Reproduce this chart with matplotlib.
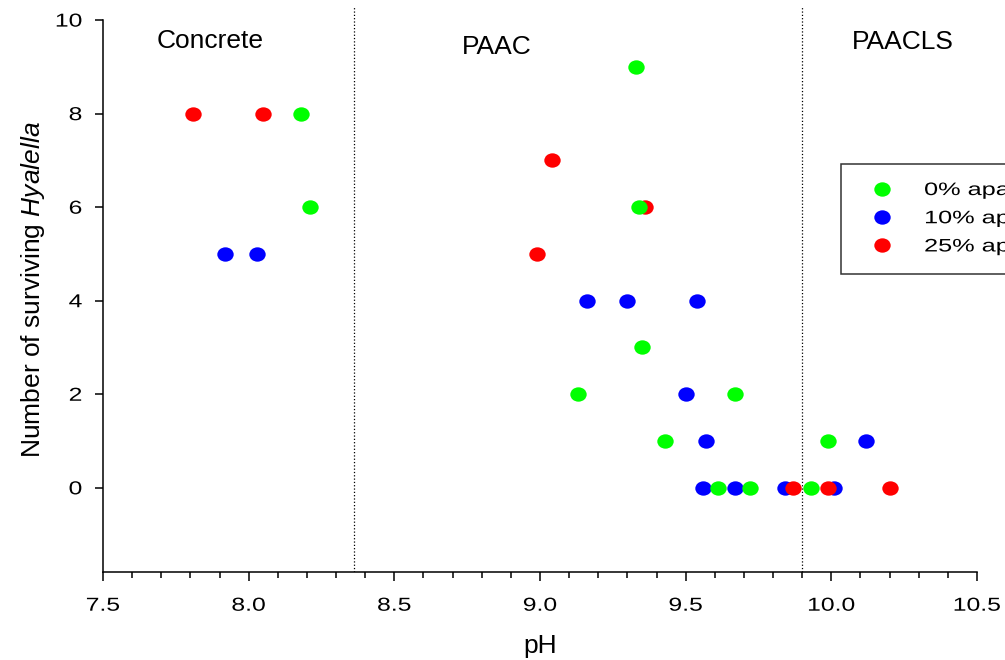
import matplotlib
matplotlib.use('Agg')
import matplotlib.pyplot as plt
import matplotlib.patheffects as pe
from matplotlib.path import Path
from matplotlib.transforms import Affine2D
from matplotlib.ticker import MultipleLocator

plt.rcParams['font.family'] = ['Liberation Sans', 'DejaVu Sans']
plt.rcParams['mathtext.fontset'] = 'custom'
plt.rcParams['mathtext.rm'] = 'Liberation Sans'
plt.rcParams['mathtext.it'] = 'Liberation Sans:italic'

# pH readings and surviving counts per apatite level
ph_0 = [8.18, 8.21, 9.33, 9.34, 9.35, 9.13, 9.67, 9.43, 9.99, 9.61, 9.72, 9.93]
n_0 = [8, 6, 9, 6, 3, 2, 2, 1, 1, 0, 0, 0]
ph_10 = [7.92, 8.03, 9.16, 9.30, 9.54, 9.50, 9.57, 10.12, 9.56, 9.67, 9.84, 10.01]
n_10 = [5, 5, 4, 4, 4, 2, 1, 1, 0, 0, 0, 0]
ph_25 = [7.81, 8.05, 9.04, 9.36, 8.99, 9.87, 9.99, 10.20]
n_25 = [8, 8, 7, 6, 5, 0, 0, 0]

labels = ['0% apatite', '10% apatite', '25% apatite']
zones = ['Concrete', 'PAAC', 'PAACLS']
zone_x = [7.866, 8.85, 10.246]
zone_y = [9.40, 9.27, 9.39]
dividers = [8.36, 9.9]
xticks = [7.5, 8.0, 8.5, 9.0, 9.5, 10.0, 10.5]
xticklabels = ['7.5', '8.0', '8.5', '9.0', '9.5', '10.0', '10.5']
yticks = [0, 2, 4, 6, 8, 10]


class Stretch(pe.AbstractPathEffect):
    # widen glyphs along the baseline, the source renders small text wide
    def __init__(self, sx, anchor='center'):
        super().__init__()
        self.sx = sx
        self.anchor = anchor

    def draw_path(self, renderer, gc, tpath, affine, rgbFace=None):
        v = tpath.vertices
        if tpath.codes is not None:
            v = v[tpath.codes != Path.CLOSEPOLY]
        if len(v) == 0:
            return
        if self.anchor == 'left':
            cx = 0.0
        elif self.anchor == 'right':
            cx = v[:, 0].max()
        else:
            cx = (v[:, 0].min() + v[:, 0].max()) / 2
        t = Affine2D().translate(-cx, 0).scale(self.sx, 1).translate(cx, 0) + affine
        renderer.draw_path(gc, tpath, t, rgbFace)


fig = plt.figure(figsize=(10.05, 6.6), dpi=100)
ax = fig.add_axes([103 / 1005, 1 - 572 / 660, (977 - 103) / 1005, (572 - 7) / 660])

dot = Path.unit_circle().transformed(Affine2D().scale(1.14, 1.0))
ms = 11.8
hb, = ax.plot(ph_10, n_10, ls='none', marker=dot, color='#0000ff', ms=ms, mec='none')
hr, = ax.plot(ph_25, n_25, ls='none', marker=dot, color='#ff0000', ms=ms, mec='none')
hg, = ax.plot(ph_0, n_0, ls='none', marker=dot, color='#00ff00', ms=ms, mec='none')

for d in dividers:
    ax.axvline(d, color='black', ls=':', lw=0.9)

for z, zx, zy in zip(zones, zone_x, zone_y):
    ax.text(zx, zy, z, ha='center', va='baseline', fontsize=19)

ax.set_xlim(7.5, 10.5)
ax.set_ylim(-1.8, 10.28)
ax.spines['top'].set_visible(False)
ax.spines['right'].set_visible(False)
ax.spines['left'].set_bounds(-1.8, 10)
ax.spines['left'].set_linewidth(1.1)
ax.spines['bottom'].set_linewidth(1.1)

ax.xaxis.set_minor_locator(MultipleLocator(0.1))
ax.set_xticks(xticks)
ax.set_xticklabels(xticklabels)
ax.set_yticks(yticks)
ax.tick_params(axis='x', which='major', length=6.5, width=1.1, pad=12, labelsize=13.5)
ax.tick_params(axis='x', which='minor', length=4, width=1.1)
ax.tick_params(axis='y', which='major', length=6, width=1.1, pad=9, labelsize=13.5)
for tk in ax.xaxis.get_major_ticks():
    tk.label1.set_path_effects([Stretch(1.32, 'center')])
for tk in ax.yaxis.get_major_ticks():
    tk.label1.set_path_effects([Stretch(1.32, 'right')])

ax.set_xlabel('pH', fontsize=19, labelpad=14)
ax.set_ylabel('Number of surviving $\\it{Hyalella}$', fontsize=19, labelpad=10)

leg = fig.legend([hg, hb, hr], labels, loc='upper left',
                 bbox_to_anchor=(841 / 1005, 1 - 164 / 660), borderaxespad=0,
                 fontsize=13, frameon=True, fancybox=False, edgecolor='black',
                 handlelength=2.5, handletextpad=1.1, borderpad=1.0,
                 labelspacing=0.62, numpoints=1)
leg.get_frame().set_linewidth(1.1)
for t in leg.get_texts():
    t.set_path_effects([Stretch(1.4, 'left')])

fig.savefig('out.png', dpi=100)
